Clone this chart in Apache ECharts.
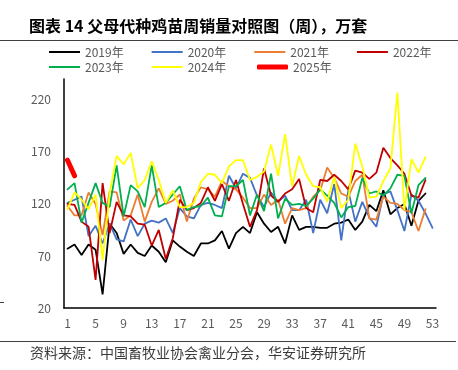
<!DOCTYPE html>
<html>
<head>
<meta charset="utf-8">
<script src="https://cdn.jsdelivr.net/npm/echarts@6/dist/echarts.min.js"></script>
<style>
html,body{margin:0;padding:0;background:#fff;}
#chart{width:458px;height:370px;}
</style>
</head>
<body>
<div id="chart"></div>
<script>
// Data
var weeks = [];
for (var i = 1; i <= 53; i++) weeks.push(String(i));

var y2019 = [77,81,71,81,76,33,101,92,72,81,73,70,80,74,64,85,79,74,70,82,82,85,94,77,92,98,92,112,101,93,98,82,109,95,98,98,97,97,101,102,105,95,103,119,113,133,110,116,120,99,123,130,null];
var y2020 = [121,124,127,89,99,82,101,86,84,105,89,101,104,102,106,92,116,108,106,119,121,119,116,147,135,149,145,128,117,131,122,128,114,114,124,92,124,111,139,85,133,103,122,107,98,129,132,114,94,129,123,111,97];
var y2021 = [118,109,109,131,120,90,132,131,104,109,129,103,122,135,120,123,129,103,125,136,134,127,142,137,134,126,116,116,129,119,124,101,116,114,116,127,133,155,145,130,127,142,148,106,105,127,121,120,114,112,94,115,null];
var y2022 = [120,119,103,98,47,140,92,122,109,108,101,100,80,95,67,87,124,114,116,121,136,123,139,123,143,120,98,114,154,128,122,130,134,144,116,112,143,142,148,142,134,152,150,144,150,174,164,157,149,128,126,143,null];
var y2023 = [134,140,102,121,140,121,117,157,108,138,132,117,157,117,121,129,137,114,117,118,126,109,108,137,137,143,109,129,113,149,106,125,119,120,118,125,134,128,121,107,117,118,145,130,132,128,135,148,147,111,138,145,null];
var y2024 = [115,131,124,115,129,66,130,166,158,169,135,143,161,143,121,133,117,117,121,141,149,148,140,156,162,162,143,146,151,177,147,187,137,166,148,137,136,122,146,116,124,178,156,126,127,142,154,227,114,163,150,165,null];
var y2025 = [162,147];

var yTicks = [20,70,120,170,220];

var names = ['2019年','2020年','2021年','2022年','2023年','2024年','2025年'];
var colors = ['#000000','#4472C4','#ED7D31','#C00000','#00B050','#FFFF00','#FF0000'];
var dataSets = [y2019,y2020,y2021,y2022,y2023,y2024,y2025];

var series = names.map(function(n, i){
  return {
    name: n,
    type: 'line',
    data: dataSets[i],
    symbol: 'none',
    connectNulls: false,
    lineStyle: {color: colors[i], width: i === 6 ? 5 : 1.8, cap: 'round'},
    itemStyle: {color: colors[i]},
    z: i === 6 ? 10 : 2 + i
  };
});

var font = '"Noto Sans CJK SC", "Noto Sans", sans-serif';
var legendText = {fontSize: 12, color: '#595959', fontFamily: font};
function items(list, icon){ return list.map(function(n){ return {name: n, icon: icon}; }); }

var chart = echarts.init(document.getElementById('chart'), null, {renderer: 'canvas'});
chart.setOption({
  animation: false,
  backgroundColor: '#ffffff',
  textStyle: {fontFamily: font},
  grid: {left: 64, right: 22, top: 79, bottom: 62, containLabel: false},
  legend: [
    {data: items(names.slice(0,4), 'rect'), left: 49, top: 46, padding: 0, itemWidth: 31, itemHeight: 2, itemGap: 28, textStyle: legendText},
    {data: items(names.slice(4,6), 'rect'), left: 49, top: 61, padding: 0, itemWidth: 31, itemHeight: 2, itemGap: 28, textStyle: legendText},
    {data: items(names.slice(6), 'roundRect'), left: 257, top: 61, padding: 0, itemWidth: 31, itemHeight: 5, itemGap: 28, textStyle: legendText}
  ],
  xAxis: {
    type: 'category',
    data: weeks,
    boundaryGap: true,
    axisLine: {lineStyle: {color: '#000', width: 1.5}},
    axisTick: {show: false},
    axisLabel: {interval: 3, color: '#595959', fontSize: 12, margin: 9, fontFamily: font},
    splitLine: {show: false}
  },
  yAxis: {
    type: 'value',
    min: 20, max: 240, interval: 50,
    axisLine: {show: true, lineStyle: {color: '#000', width: 1.5}},
    axisTick: {show: false},
    axisLabel: {color: '#595959', fontSize: 12, margin: 13, fontFamily: font,
      formatter: function(v){ return yTicks.indexOf(v) >= 0 ? String(v) : ''; }},
    splitLine: {show: false}
  },
  graphic: [
    {type: 'text', left: 29, top: 18, style: {text: '图表 14 父母代种鸡苗周销量对照图（周），万套', font: 'bold 16px ' + font, fill: '#000'}},
    {type: 'line', shape: {x1: 0, y1: 40.5, x2: 458, y2: 40.5}, style: {stroke: '#404040', lineWidth: 1}},
    {type: 'line', shape: {x1: 0, y1: 341.5, x2: 456, y2: 341.5}, style: {stroke: '#404040', lineWidth: 1}},
    {type: 'line', shape: {x1: 0, y1: 302.5, x2: 4, y2: 302.5}, style: {stroke: '#404040', lineWidth: 1}},
    {type: 'text', left: 30, top: 346, style: {text: '资料来源：中国畜牧业协会禽业分会，华安证券研究所', font: '14px ' + font, fill: '#3a3a3a'}}
  ],
  series: series
});
</script>
</body>
</html>
